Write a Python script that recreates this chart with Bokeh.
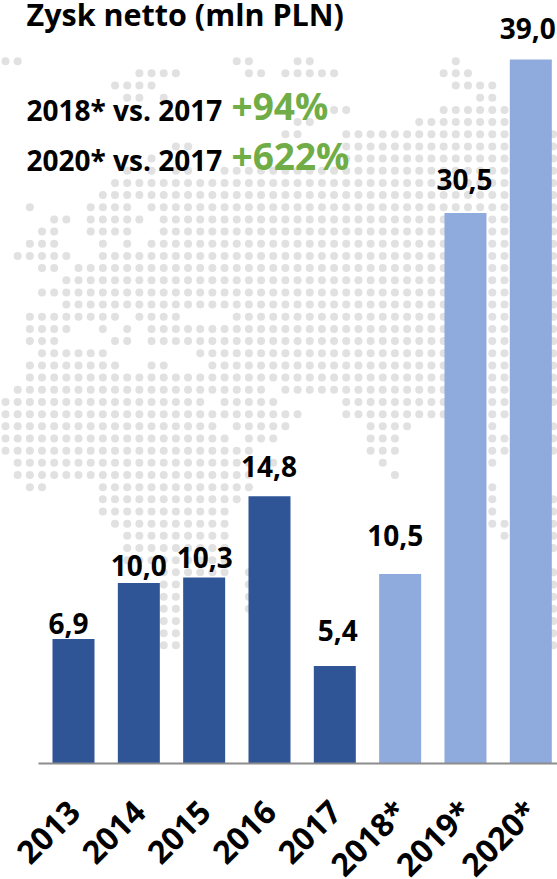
from bokeh.plotting import figure
from bokeh.models import Range1d, FixedTicker, Label, ColumnDataSource, LinearAxis
from bokeh.embed import file_html
from bokeh.resources import INLINE
from bokeh.core.properties import value

YEARS = ["2013", "2014", "2015", "2016", "2017", "2018*", "2019*", "2020*"]
PROFIT = [6.9, 10.0, 10.3, 14.8, 5.4, 10.5, 30.5, 39.0]
LABELS = ["6,9", "10,0", "10,3", "14,8", "5,4", "10,5", "30,5", "39,0"]
BAR_COLORS = ["#2F5597"] * 5 + ["#8FAADC"] * 3
LABEL_DX = [-5, 0, 0.5, -0.5, 3, -5, -1, -3]
LABEL_DY = [-4.5, -7.5, -10, -19, -25.5, -28, -22.5, -21]

# background dot map: occupied grid columns for each grid row
MAP_ROWS = [
    "0-1,19-20,24-25,37", "11-14,20-21,23-27,36-38", "9-12,37-40", "10-11,13,39-40",
    "27-28,36-41", "24-25,34-41", "23-24,28-41,45", "14-15,28-41,45",
    "12,28-41,45", "10,12,14-15,18-41,45", "9-41,45", "8-41,45",
    "2,7-10,12-41,45", "4-5,7-11,13-41,45", "3-4,7-10,13-41,45", "2-4,8,10,12-41,45",
    "1-5,8-41,45", "3-4,6-41,45", "5-41,45", "3-41,45",
    "5-41,45", "2-9,11-14,19-41,45", "2-5,8,10,12-41,45", "2-4,9-10,12-41,45",
    "3-8,16-41,45", "2-9,12-13,17-41,45", "2-41,45", "1-21,23-41,45",
    "0-16,18-22,28-41,45", "0-24,28-41", "0-17,19-23,30-33,40,45", "0-18,20-22,30-32,40-41,45",
    "0-20,30-32,40-41,45", "1-20,22,31,40", "1-20,32", "2-3,8-20,40",
    "8-19,40,45", "8-18,40,45", "9-18,40-41,45", "10-18,41,45",
    "10-18,45", "10-18", "13-18,20,45", "13-14,20,45",
    "13-14,20,45", "13-14,20,45", "13-14,45", "13-14,45", "13-14,45",
]

map_x, map_y = [], []
for r, spec in enumerate(MAP_ROWS):
    for part in spec.split(","):
        a, _, b = part.partition("-")
        for c in range(int(a), int(b or a) + 1):
            map_x.append(c)
            map_y.append(r)

W, H = 557, 879
BASE = 763
PX_PER_UNIT = 18.05
PITCH = 65.33
FIRST = 73.0
CELL = 12.17
FONT = "Open Sans"
LABEL_PX = 28

p = figure(width=W, height=H, output_backend="svg", toolbar_location=None,
           x_range=Range1d(-FIRST / PITCH, (W - FIRST) / PITCH),
           y_range=Range1d((BASE - H) / PX_PER_UNIT, BASE / PX_PER_UNIT),
           min_border_left=0, min_border_right=0, min_border_top=0, min_border_bottom=0,
           x_axis_location=None, y_axis_location=None,
           background_fill_color="white", border_fill_color="white",
           outline_line_color=None)
p.grid.visible = False
p.extra_x_ranges["mx"] = Range1d(-5 / CELL, (W - 5) / CELL)
p.extra_y_ranges["my"] = Range1d((H - 60.7) / CELL, -60.7 / CELL)

p.scatter(map_x, map_y, x_range_name="mx", y_range_name="my", size=8,
          marker="circle", fill_color="#E1E1E1", line_color=None)

src = ColumnDataSource(dict(x=list(range(len(YEARS))), top=PROFIT, color=BAR_COLORS,
                            label=LABELS, dx=LABEL_DX, dy=LABEL_DY))
p.vbar(x="x", top="top", bottom=0, width=42 / PITCH, source=src,
       fill_color="color", line_color=None)
p.text(x="x", y="top", text="label", source=src, x_offset="dx", y_offset="dy",
       text_font=value(FONT), text_font_style="bold", text_font_size=f"{LABEL_PX}px",
       text_color="black", text_align="center", text_baseline="bottom")

axis = LinearAxis(ticker=FixedTicker(ticks=list(range(len(YEARS)))),
                  major_label_overrides={i: y for i, y in enumerate(YEARS)},
                  major_label_orientation=0.785, fixed_location=0,
                  major_label_text_font=FONT, major_label_text_font_style="bold",
                  major_label_text_font_size="32px", major_label_text_color="black",
                  major_label_standoff=36,
                  major_tick_line_color=None, minor_tick_line_color=None,
                  axis_line_color="#8C8C8C", axis_line_width=2,
                  bounds=(-FIRST / PITCH + 38 / PITCH, (W - FIRST) / PITCH))
p.add_layout(axis, "below")

def note(text, x, base, size, color):
    p.add_layout(Label(x=x, y=H - base - 0.29 * size, x_units="screen", y_units="screen", text=text,
                       text_font=FONT, text_font_style="bold", text_font_size=f"{size}px",
                       text_color=color, text_baseline="bottom"))

note("Zysk netto (mln PLN)", 26, 26, 30.5, "black")
note("2018* vs. 2017", 26, 120, 28, "black")
note("2020* vs. 2017", 26, 170, 28, "black")
note("+94%", 231, 120, 37, "#70AD47")
note("+622%", 231, 170, 37, "#70AD47")

open("out.html", "w").write(file_html(p, INLINE))
